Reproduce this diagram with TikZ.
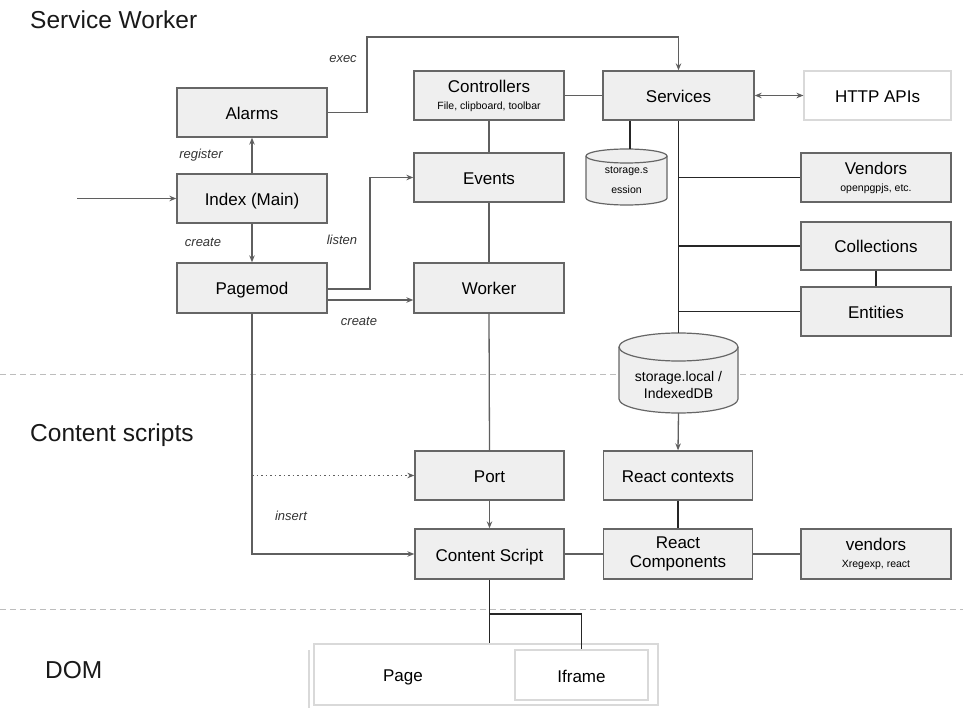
\documentclass[tikz,border=0pt]{standalone}
\usepackage{fontspec}
\setmainfont{Liberation Sans}
\usetikzlibrary{arrows.meta}
\definecolor{boxfill}{HTML}{EFEFEF}
\definecolor{boxline}{HTML}{666666}
\definecolor{wirecol}{HTML}{5F5F5F}
\definecolor{wiredark}{HTML}{262626}
\definecolor{sepcol}{HTML}{BDBDBD}
\definecolor{lightedge}{HTML}{D9D9D9}
\begin{document}
\begin{tikzpicture}[x=1pt,y=-1pt,
  box/.style={draw=boxline, fill=boxfill, line width=1.3pt, minimum width=150pt, minimum height=49pt, inner sep=0pt, align=center, font=\fontsize{17}{20}\selectfont},
  one/.style={text height=15pt, text depth=1pt},
  wbox/.style={draw=lightedge, fill=white, line width=1.1pt, inner sep=0pt, align=center, font=\fontsize{17}{20}\selectfont},
  wire/.style={draw=wirecol, line width=1.3pt},
  dwire/.style={draw=wiredark, line width=1.3pt},
  arr/.style={-{Stealth[length=7pt,width=5.5pt]}},
  lbl/.style={font=\fontsize{13}{15}\selectfont\itshape, text=black!80, inner sep=0pt},
  ttl/.style={font=\fontsize{24.5}{27}\selectfont, anchor=base west, inner sep=0pt, text=black!90},
  cyl/.style={draw=boxline, fill=boxfill, line width=1.2pt},
  sep/.style={draw=sepcol, line width=1pt, dash pattern=on 6pt off 4pt},
  small/.style={font=\fontsize{10.5}{12}\selectfont}
]
\useasboundingbox (0,0) rectangle (963,708);

% separators
\draw[sep] (0,374) -- (963,374);
\draw[sep] (0,609) -- (963,609);

% titles
\node[ttl] (t1) at (30,29) {Service Worker};
\node[ttl] (t2) at (30,441) {Content scripts};
\node[ttl] (t3) at (45,678) {DOM};

% boxes
\node[box, one] (alarms) at (252,112.5) {Alarms};
\node[box, one] (index) at (252,198.5) {Index (Main)};
\node[box, one, minimum height=50pt] (pagemod) at (252,288) {Pagemod};
\node[box] (ctrl) at (489,95.5) {Controllers\\[-3pt]{\fontsize{10.5}{12}\selectfont File, clipboard, toolbar}};
\node[box, one] (events) at (489,177.5) {Events};
\node[box, one, minimum height=50pt] (worker) at (489,288) {Worker};
\node[box, one, minimum width=151pt] (services) at (678.5,95.5) {Services};
\node[wbox, one, minimum width=147pt, minimum height=49pt] (http) at (877.5,95.5) {HTTP APIs};
\node[box] (vendors) at (876,177.5) {Vendors\\[-3pt]{\fontsize{10.5}{12}\selectfont openpgpjs, etc.}};
\node[box, one, minimum height=48pt] (coll) at (876,246) {Collections};
\node[box, one] (ent) at (876,311.5) {Entities};
\node[box, one, minimum width=149pt] (port) at (489.5,475.5) {Port};
\node[box, one, minimum width=149pt] (rctx) at (678,475.5) {React contexts};
\node[box, one, minimum width=149pt, minimum height=50pt] (cs) at (489.5,554) {Content Script};
\node[box, minimum width=149pt, minimum height=50pt, font=\fontsize{17}{19}\selectfont] (rcomp) at (678,554) {React\\Components};
\node[box, minimum height=50pt] (vend2) at (876,554) {vendors\\[-3pt]{\fontsize{10.5}{12}\selectfont Xregexp, react}};

% storage.session cylinder
\filldraw[cyl] (586,156) -- (586,198) arc[start angle=180,end angle=0,x radius=40.5,y radius=7] -- (667,156) arc[start angle=0,end angle=-180,x radius=40.5,y radius=7] -- cycle;
\draw[cyl, fill=none] (586,156) arc[start angle=180,end angle=0,x radius=40.5,y radius=7];
\node[small, align=center, inner sep=0pt, font=\fontsize{10.5}{20}\selectfont] (ss) at (626.5,180) {storage.s\\ession};
\coordinate (sstop) at (630,149);

% storage.local cylinder
\filldraw[cyl] (619,347) -- (619,399) arc[start angle=180,end angle=0,x radius=59.5,y radius=14] -- (738,347) arc[start angle=0,end angle=-180,x radius=59.5,y radius=14] -- cycle;
\draw[cyl, fill=none] (619,347) arc[start angle=180,end angle=0,x radius=59.5,y radius=14];
\node[align=center, inner sep=0pt, font=\fontsize{14}{17}\selectfont] (sl) at (678.5,385) {storage.local /\\IndexedDB};
\coordinate (sltop) at (678.5,333);
\coordinate (slbot) at (678.5,413);

% Page / Iframe
\draw[draw=lightedge, line width=1.1pt] (309,650) -- (309,708);
\node[wbox, minimum width=344pt, minimum height=61pt] (page) at (486,674.5) {};
\node[font=\fontsize{17}{20}\selectfont, inner sep=0pt] (pagetxt) at (403,677) {Page};
\node[wbox, one, minimum width=133pt, minimum height=50pt] (iframe) at (581.5,675) {Iframe};

% connectors - left side
\coordinate (in) at (77,198.5);
\draw[wire,arr] (in) -- (index.west);
\draw[wire,arr] (index.north) -- (alarms.south);
\draw[wire,arr] (index.south) -- (pagemod.north);
\coordinate (e1) at (367,37);
\draw[wire,arr] (alarms.east) -| (e1) -| (services.north);
\coordinate (l1) at (370,289);
\draw[wire,arr] (pagemod.east |- l1) -- (l1) |- (events.west);
\coordinate (c2) at (0,300);
\draw[wire,arr] (pagemod.east |- c2) -- (worker.west |- c2);
\draw[wire,arr] (pagemod.south) |- (cs.west);
\coordinate (d1) at (252,475.5);
\draw[wire, line width=1.1pt, dash pattern=on 1.5pt off 3pt, arr] (d1) -- (port.west);

% middle column
\draw[wire] (ctrl.east) -- (services.west);
\draw[wire] (ctrl.south) -- (events.north);
\draw[wire] (events.south) -- (worker.north);
\draw[wire] (worker.south) -- (port.north);
\draw[wire,arr] (port.south) -- (cs.north);

% services
\draw[wire,{Stealth[length=7pt,width=5.5pt]}-{Stealth[length=7pt,width=5.5pt]}] (services.east) -- (http.west);
\draw[dwire] (services.south -| sstop) -- (sstop);
\draw[dwire] (services.south) -- (sltop);
\draw[dwire] (services.south |- vendors.west) -- (vendors.west);
\draw[dwire] (services.south |- coll.west) -- (coll.west);
\draw[dwire] (services.south |- ent.west) -- (ent.west);
\draw[dwire] (coll.south) -- (ent.north);

% content side
\draw[wire,arr] (slbot) -- (rctx.north);
\draw[dwire] (rctx.south) -- (rcomp.north);
\draw[wire] (cs.east) -- (rcomp.west);
\draw[wire] (rcomp.east) -- (vend2.west);

% DOM
\draw[dwire] (cs.south) -- (cs.south |- page.north);
\coordinate (j) at (489.5,614);
\draw[dwire] (j) -| (iframe.north);

% labels
\node[lbl] (lexec) at (343,59) {exec};
\node[lbl] (lreg) at (201,155) {register};
\node[lbl] (lcr1) at (203,242) {create};
\node[lbl] (llis) at (342,240) {listen};
\node[lbl] (lcr2) at (359,321) {create};
\node[lbl] (lins) at (291,516) {insert};
\end{tikzpicture}
\end{document}
